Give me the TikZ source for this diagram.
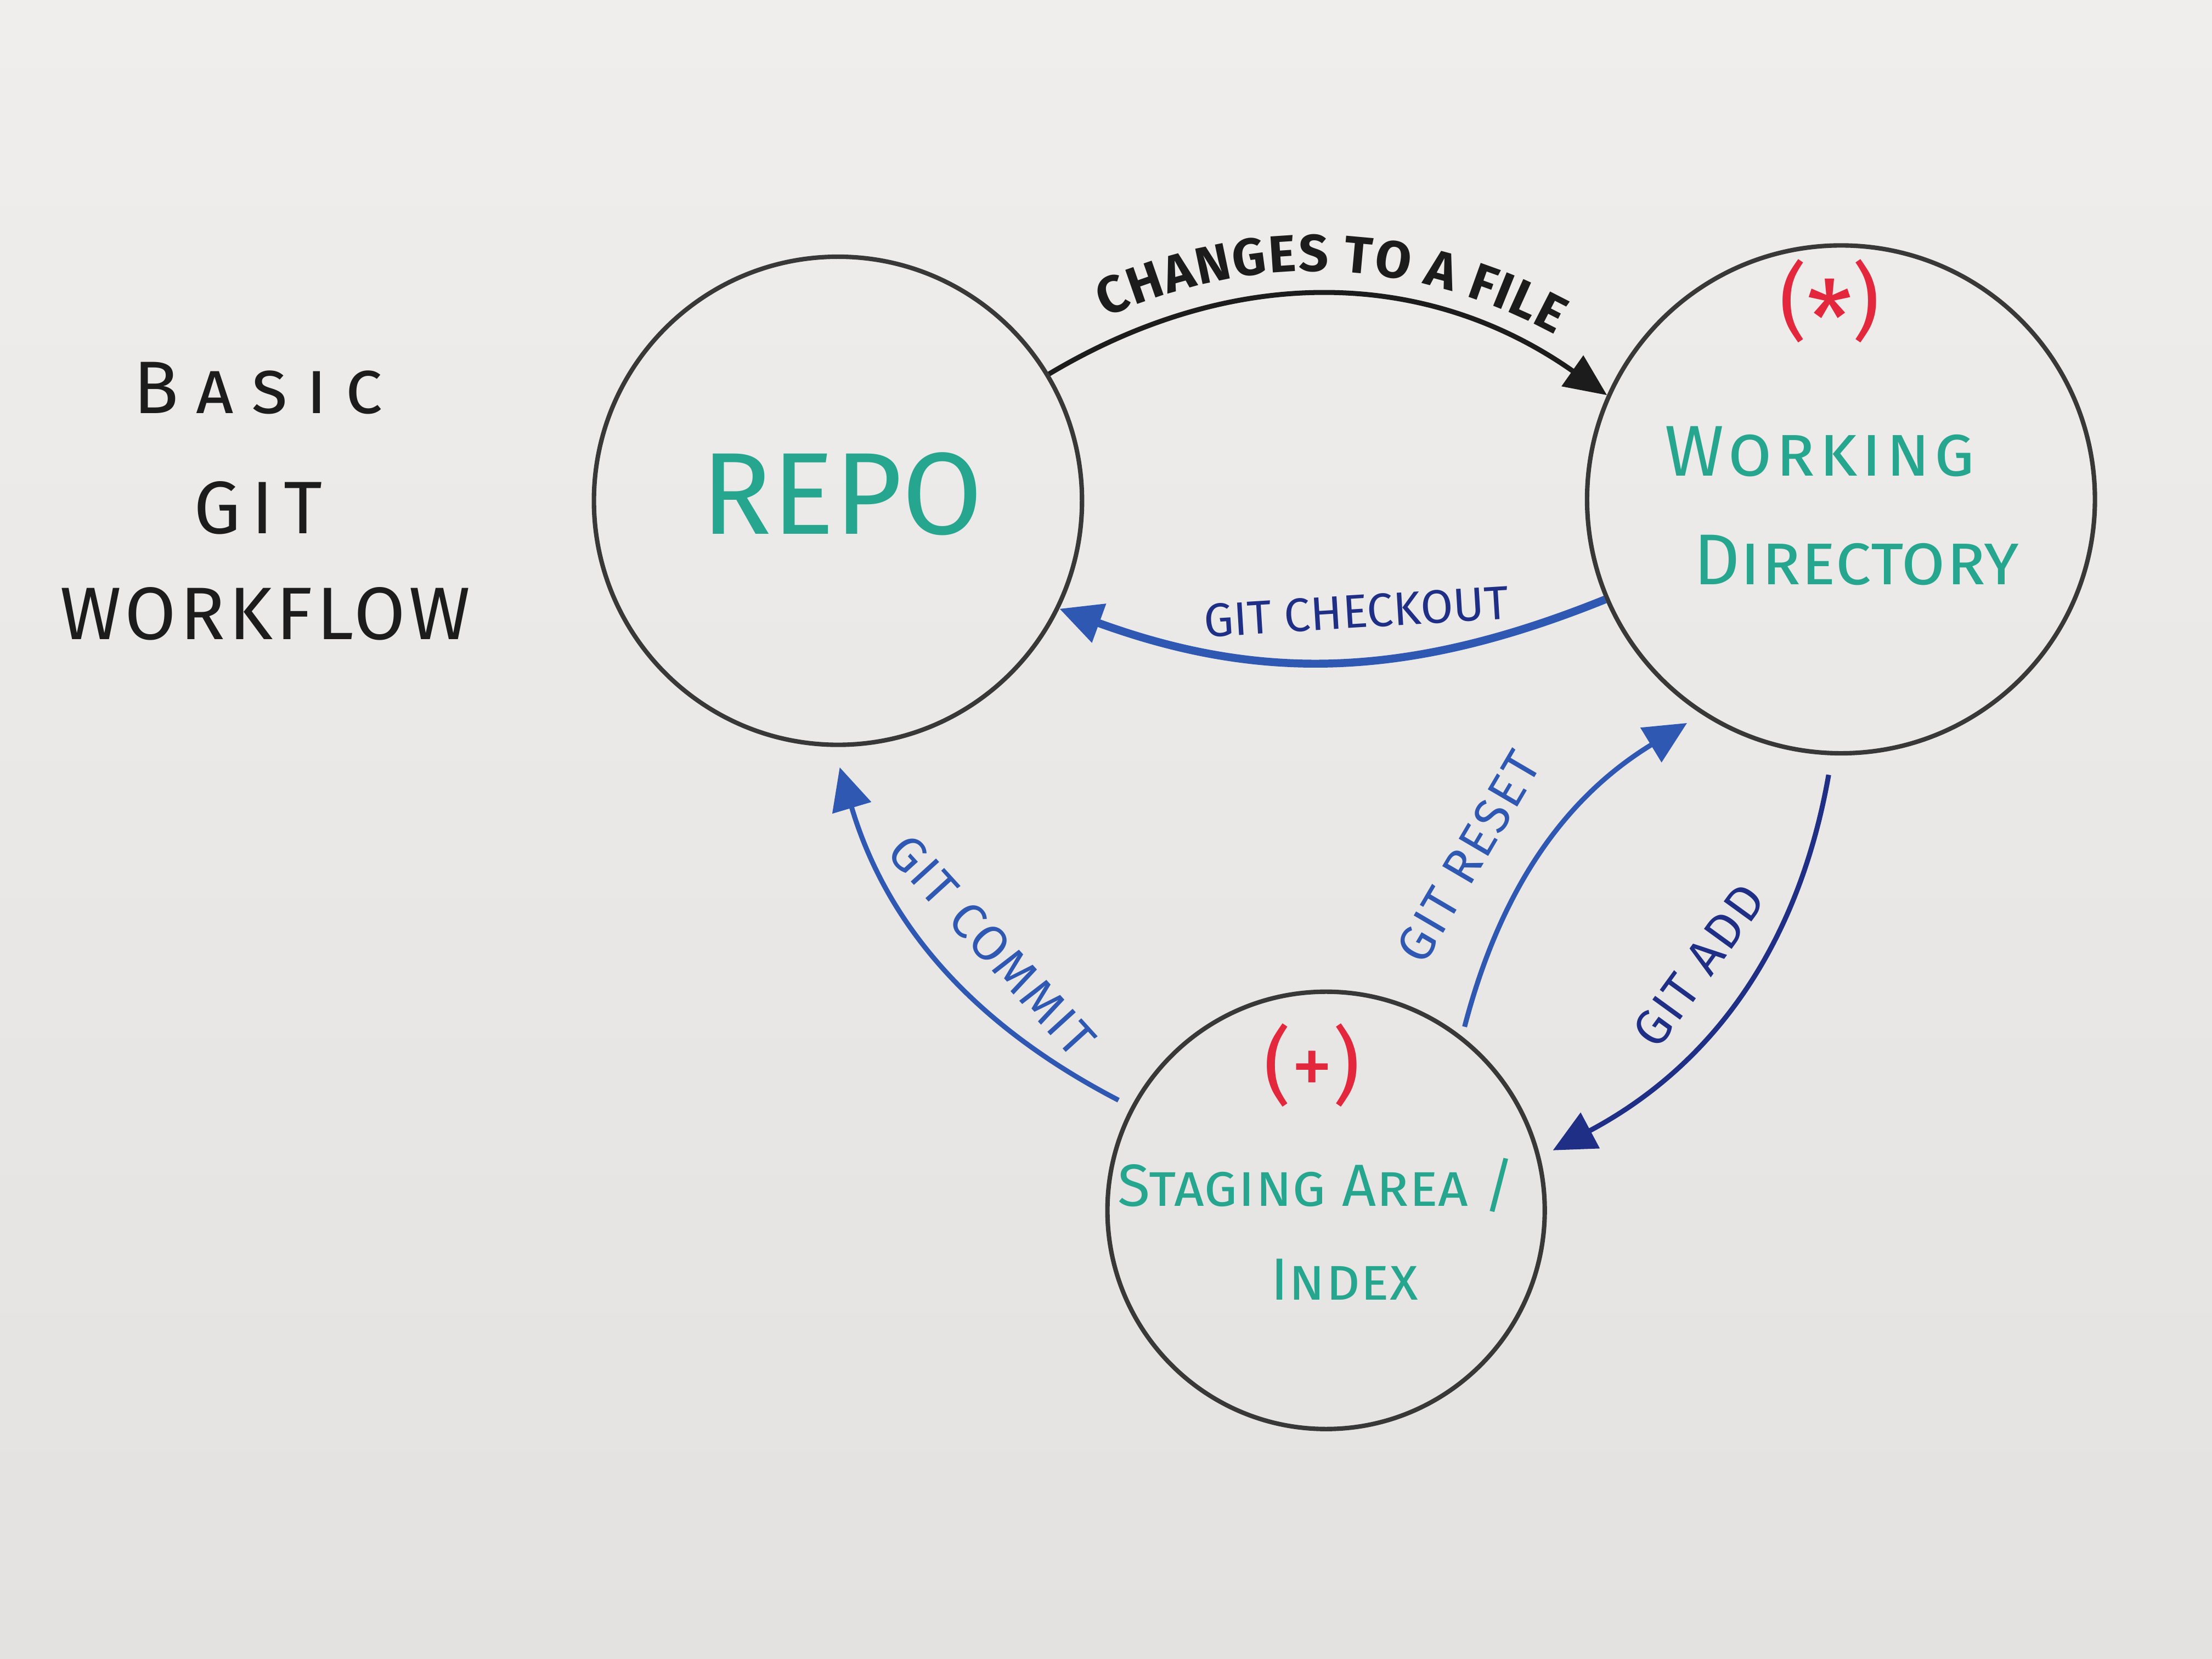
\documentclass[tikz,border=0pt]{standalone}
\usepackage{fontspec}
\setmainfont{Fira Sans}
\usetikzlibrary{calc, arrows.meta, decorations.text}

\definecolor{boardtop}{HTML}{EFEEEC}
\definecolor{boardbot}{HTML}{E3E2E0}
\definecolor{ink}{HTML}{1C1C1C}
\definecolor{rim}{HTML}{383838}
\definecolor{markerteal}{HTML}{26A68E}
\definecolor{markerred}{HTML}{E3283E}
\definecolor{markerblue}{HTML}{2F58B2}
\definecolor{markernavy}{HTML}{1F2F86}

\tikzset{
  bubble/.style={circle, draw=rim, line width=0.9pt, minimum size=#1, inner sep=0pt},
  title/.style={font=\fontsize{15}{18}\selectfont\addfontfeatures{LetterSpace=#1}, text=ink, inner sep=0pt},
  hand/.style={font=\fontsize{14.5}{18}\selectfont\scshape\addfontfeatures{LetterSpace=#1}, text=markerteal, inner sep=0pt},
  redmark/.style={font=\fontsize{17}{20}\selectfont, text=markerred, inner sep=0pt},
  flow/.style={-{Triangle[length=3mm,width=2.8mm]}, line width=1pt, draw=markerblue},
  cmd/.style={font=\fontsize{10}{12}\selectfont\addfontfeatures{LetterSpace=4}, text=markernavy, sloped, inner sep=0pt, above=2mm}
}

\begin{document}
\begin{tikzpicture}
  \shade[top color=boardtop, bottom color=boardbot] (0,0) rectangle (15.68,11.76);
  \useasboundingbox (0,0) rectangle (15.68,11.76);

  % title
  \node[title=24] (basic) at (1.83,9.01) {\scshape Basic};
  \node[title=14] (git) at (1.83,8.16) {GIT};
  \node[title=5] (workflow) at (1.88,7.41) {WORKFLOW};

  % the three areas
  \node[bubble=3.46cm] (repo) at (5.94,8.21) {};
  \node[bubble=3.60cm] (workdir) at (13.05,8.22) {};
  \node[bubble=3.10cm] (staging) at (9.40,3.18) {};

  \node[hand=2, font=\fontsize{23.5}{28}\selectfont] (repotext) at (5.97,8.26) {REPO};
  \node[redmark] (star) at (12.97,9.58) {(\raisebox{-0.3em}{\fontsize{21}{21}\selectfont *})};
  \node[hand=5] (worktext) at (12.90,8.56) {Working};
  \node[hand=0] (dirtext) at (13.16,7.79) {Directory};
  \node[redmark] (plus) at (9.30,4.21) {(+)};
  \node[hand=3, font=\fontsize{12}{15}\selectfont\scshape] (stagetext) at (9.33,3.36) {Staging Area /};
  \node[hand=3, font=\fontsize{12}{15}\selectfont\scshape] (indextext) at (9.53,2.69) {Index};

  % transitions
  \draw[ink, line width=1pt, -{Triangle[length=3mm,width=2.6mm]},
    postaction={decorate, decoration={text along path, text align=center, raise=1.7mm, text color=ink,
      text={|\fontsize{10.5}{13}\selectfont\bfseries|CHANGES TO A FILE}}}]
    (repo.31) to[bend left=33] (workdir.156);
  \draw[flow, line width=1.6pt] (workdir.203) to[bend left=21]
    node[cmd, pos=0.45, font=\fontsize{9.5}{12}\selectfont] (checkout) {GIT CHECKOUT} (repo.334);
  \draw[flow, shorten <=1mm, shorten >=1.5mm] (staging.152) to[bend left=23]
    node[cmd, pos=0.45, text=markerblue] (commit) {GIT COMMIT} (repo.269);
  \draw[flow, shorten <=0.7mm, shorten >=1.2mm] (staging.52) to[bend left=22]
    node[cmd, pos=0.38, above=0.9mm, text=markerblue] (reset) {GIT RESET} (workdir.237);
  \draw[flow, draw=markernavy, shorten <=1.4mm, shorten >=1mm] (workdir.268) to[bend left=26]
    node[cmd] (add) {GIT ADD} (staging.14);
\end{tikzpicture}
\end{document}
